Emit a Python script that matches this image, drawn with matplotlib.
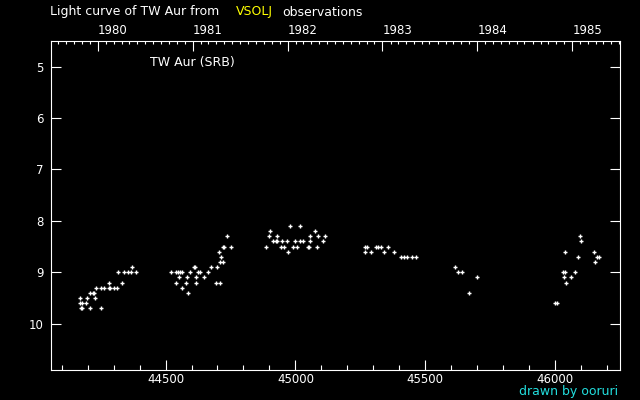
import numpy as np
import pandas as pd
import matplotlib
matplotlib.use('Agg')
import matplotlib.pyplot as plt
from matplotlib.ticker import MultipleLocator

# Fecha juliana (JD - 2400000) y magnitud visual
jd = [
    44170, 44197, 44228,
    44170, 44177, 44193,
    44175, 44177, 44208, 44251,
    44208, 44220, 44224,
    44231, 44251, 44262, 44281, 44285, 44301, 44312,
    44281, 44331,
    44316, 44339, 44354, 44366, 44385,
    44370,
    44520, 44539, 44547, 44554, 44562, 44593, 44624, 44631, 44662,
    44610, 44612, 44674, 44697,
    44551, 44581, 44616, 44647,
    44539, 44577, 44616, 44693, 44708,
    44562, 44585,
    44708, 44720, 44712, 44704, 44720, 44724, 44751, 44735,
    44978, 45016,
    44901, 45074,
    44897, 44931, 45058, 45089, 45116,
    44912, 44924, 44928, 44947, 44966, 44997, 45016, 45031, 45055, 45105,
    44885, 44943, 44958, 44989, 45005, 45047, 45051, 45085,
    44970,
    45270, 45274, 45312, 45320, 45328, 45355,
    45270, 45293, 45343, 45378,
    45405, 45420, 45431, 45451, 45466,
    45616, 45628, 45643, 45701, 45670,
    46001, 46008,
    46097, 46101, 46039, 46151, 46089, 46162, 46170, 46154,
    46031, 46039, 46078, 46035, 46062, 46043,
]
mag = [
    9.5, 9.5, 9.5,
    9.6, 9.6, 9.6,
    9.7, 9.7, 9.7, 9.7,
    9.4, 9.4, 9.4,
    9.3, 9.3, 9.3, 9.3, 9.3, 9.3, 9.3,
    9.2, 9.2,
    9.0, 9.0, 9.0, 9.0, 9.0,
    8.9,
    9.0, 9.0, 9.0, 9.0, 9.0, 9.0, 9.0, 9.0, 9.0,
    8.9, 8.9, 8.9, 8.9,
    9.1, 9.1, 9.1, 9.1,
    9.2, 9.2, 9.2, 9.2, 9.2,
    9.3, 9.4,
    8.8, 8.8, 8.7, 8.6, 8.5, 8.5, 8.5, 8.3,
    8.1, 8.1,
    8.2, 8.2,
    8.3, 8.3, 8.3, 8.3, 8.3,
    8.4, 8.4, 8.4, 8.4, 8.4, 8.4, 8.4, 8.4, 8.4, 8.4,
    8.5, 8.5, 8.5, 8.5, 8.5, 8.5, 8.5, 8.5,
    8.6,
    8.5, 8.5, 8.5, 8.5, 8.5, 8.5,
    8.6, 8.6, 8.6, 8.6,
    8.7, 8.7, 8.7, 8.7, 8.7,
    8.9, 9.0, 9.0, 9.1, 9.4,
    9.6, 9.6,
    8.3, 8.4, 8.6, 8.6, 8.7, 8.7, 8.7, 8.8,
    9.0, 9.0, 9.0, 9.1, 9.1, 9.2,
]
anios = [1980, 1981, 1982, 1983, 1984, 1985]

jd_min, jd_max = 44057, 46251

def fecha_a_jd(fecha):
    return pd.Timestamp(fecha).to_julian_date() - 2400000

fig = plt.figure(figsize=(6.4, 4.0), dpi=100, facecolor='black')
ax = fig.add_axes([0.079, 0.075, 0.890, 0.823], facecolor='black')

ax.plot(jd, mag, linestyle='none', marker='+', color='white',
        markersize=3.5, markeredgewidth=1)

ax.set_xlim(jd_min, jd_max)
ax.set_ylim(10.9, 4.5)

for lado in ax.spines.values():
    lado.set_color('white')
    lado.set_linewidth(0.8)

ax.xaxis.set_major_locator(MultipleLocator(500))
ax.xaxis.set_minor_locator(MultipleLocator(100))
ax.yaxis.set_major_locator(MultipleLocator(1))
ax.tick_params(axis='x', which='major', direction='in', length=7.5, width=0.8,
               color='white', labelcolor='white', labelsize=8.5, pad=2,
               bottom=True, top=False)
ax.tick_params(axis='x', which='minor', direction='in', length=3.8, width=0.8,
               color='white', bottom=True, top=False)
ax.tick_params(axis='y', which='major', direction='in', length=7.5, width=0.8,
               color='white', labelcolor='white', labelsize=8.5, pad=5,
               left=True, right=True)

# Eje superior con los anios
ax2 = ax.twiny()
ax2.set_xlim(jd_min, jd_max)
ax2.set_xticks([fecha_a_jd(f'{a}-01-01') for a in anios])
ax2.set_xticklabels([str(a) for a in anios], ha='left')
meses = pd.date_range('1979-07-01', '1985-08-01', freq='MS')
pos_meses = [fecha_a_jd(m) for m in meses]
ax2.set_xticks([p for p in pos_meses if jd_min <= p <= jd_max], minor=True)
ax2.tick_params(axis='x', which='major', direction='in', length=7.5, width=0.8,
                color='white', labelcolor='white', labelsize=8.5, pad=3)
ax2.tick_params(axis='x', which='minor', direction='in', length=2.5, width=0.8,
                color='white')
for lado in ax2.spines.values():
    lado.set_visible(False)

ax.text(0.175, 0.935, 'TW Aur (SRB)', transform=ax.transAxes, color='white',
        fontsize=9, ha='left', va='center')

fig.text(50 / 640, 1 - 12 / 400, 'Light curve of TW Aur from', color='white',
         fontsize=9, ha='left', va='center')
fig.text(236 / 640, 1 - 12 / 400, 'VSOLJ', color='#ffff00',
         fontsize=9, ha='left', va='center')
fig.text(282 / 640, 1 - 12 / 400, 'observations', color='white',
         fontsize=9, ha='left', va='center')
fig.text(618 / 640, 1 - 392 / 400, 'drawn by ooruri', color='#22dddd',
         fontsize=9, ha='right', va='center')

fig.savefig('out.png', dpi=100, facecolor='black')
